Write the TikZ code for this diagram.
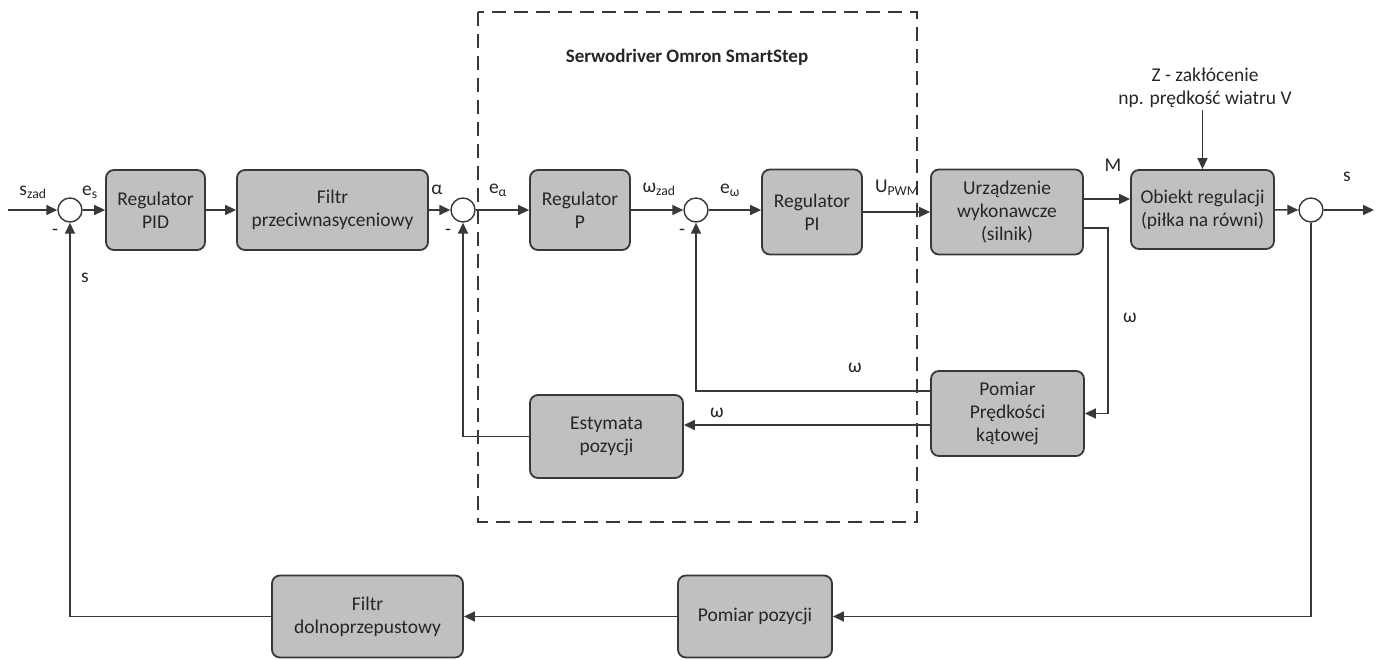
\documentclass[tikz,border=0pt]{standalone}
\usepackage{fontspec}
\setmainfont{Carlito}
\usetikzlibrary{arrows.meta}

\definecolor{ciemny}{HTML}{262626}
\definecolor{linia}{HTML}{383838}
\definecolor{szary}{HTML}{C0C0C0}

\tikzset{
  blok/.style = {draw=linia, fill=szary, line width=1.8pt, rounded corners=8pt,
                 align=center, text=ciemny, inner sep=2pt},
  suma/.style = {draw=linia, fill=white, circle, line width=1.4pt, minimum size=24pt, inner sep=0pt},
  sygnal/.style = {draw=linia, line width=1.5pt, -{Triangle[length=11pt,width=10pt]}},
  etykieta/.style = {text=ciemny, inner sep=0pt}
}

\begin{document}
\begin{tikzpicture}[x=1pt, y=-1pt, font=\fontsize{19.5}{23}\selectfont]
\useasboundingbox (0,0) rectangle (1378,660);

% ramka serwodrivera
\draw[linia, line width=1.5pt, dash pattern=on 14pt off 8pt] (478,12) rectangle (917,522);
\path (687,57) node[etykieta, font=\fontsize{19}{23}\selectfont\bfseries] (tytul) {Serwodriver Omron SmartStep};

% bloki toru glownego
\path (155.5,210) node[blok, minimum width=99pt, minimum height=80pt] (pid) {Regulator\\PID};
\path (332.5,210) node[blok, minimum width=191pt, minimum height=80pt] (filtr) {Filtr\\przeciwnasyceniowy};
\path (580,210) node[blok, minimum width=100pt, minimum height=80pt] (regp) {Regulator\\P};
\path (812,212) node[blok, minimum width=100pt, minimum height=85pt] (regpi) {Regulator\\PI};
\path (1007,212) node[blok, minimum width=152pt, minimum height=85pt] (urz) {Urządzenie\\wykonawcze\\(silnik)};
\path (1202.5,209.5) node[blok, minimum width=143pt, minimum height=79pt] (obiekt) {Obiekt regulacji\\(piłka na równi)};

% bloki sprzezen
\path (1007.5,413.5) node[blok, minimum width=153pt, minimum height=85pt] (pomw) {Pomiar\\Prędkości\\kątowej};
\path (606.5,436.5) node[blok, minimum width=153pt, minimum height=83pt] (est) {Estymata\\pozycji};
\path (755,616.5) node[blok, minimum width=154pt, minimum height=82pt] (pompoz) {Pomiar pozycji};
\path (367.5,616.5) node[blok, minimum width=191pt, minimum height=82pt] (filtrd) {Filtr\\dolnoprzepustowy};

% wezly sumacyjne
\path (70,210) node[suma] (s1) {};
\path (463,210) node[suma] (s2) {};
\path (696,210) node[suma] (s3) {};
\path (1311,210) node[suma] (s4) {};

\coordinate (wej) at (8,210);
\coordinate (wyj) at (1374,210);
\coordinate (zakl) at (1202.5,110);

% tor glowny
\draw[sygnal] (wej) -- (s1);
\draw[sygnal] (s1) -- (pid);
\draw[sygnal] (pid) -- (filtr);
\draw[sygnal] (filtr) -- (s2);
\draw[sygnal] (s2) -- (regp);
\draw[sygnal] (regp) -- (s3);
\draw[sygnal] (s3.east) -- (s3.east -| regpi.west);
\draw[sygnal] (regpi.east |- urz.west) -- (urz.west);
\draw[sygnal] ([yshift=13pt]urz.east) -- ([yshift=13pt]urz.east -| obiekt.west);
\draw[sygnal] (obiekt) -- (s4);
\draw[sygnal] (s4) -- (wyj);
\draw[sygnal] (zakl) -- (obiekt.north);

% sprzezenia
\draw[sygnal] ([yshift=-16pt]urz.east) -- ++(24,0) |- (pomw.east);
\draw[sygnal] ([yshift=22.5pt]pomw.west) -| (s3.south);
\draw[sygnal] ([yshift=-11.5pt]pomw.west) -- ([yshift=-11.5pt]pomw.west -| est.east);
\draw[sygnal] (est.west) -| (s2.south);
\draw[sygnal] (s4.south) |- (pompoz.east);
\draw[sygnal] (pompoz.west) -- (filtrd.east);
\draw[sygnal] (filtrd.west) -| (s1.south);

% etykiety sygnalow
\path (33,192) node[etykieta] (lszad) {s\textsubscript{zad}};
\path (90,192) node[etykieta] (les) {e\textsubscript{s}};
\path (55,232) node[etykieta] (lm1) {-};
\path (85,278) node[etykieta] (ls1) {s};
\path (437,190) node[etykieta] (lalfa) {α};
\path (448,232) node[etykieta] (lm2) {-};
\path (498,190) node[etykieta] (lealfa) {e\textsubscript{α}};
\path (659,189) node[etykieta] (lwzad) {ω\textsubscript{zad}};
\path (730,190) node[etykieta] (lew) {e\textsubscript{ω}};
\path (682,232) node[etykieta] (lm3) {-};
\path (897,188) node[etykieta] (lupwm) {U\textsubscript{PWM}};
\path (1113,165) node[etykieta] (lm) {M};
\path (1347,177) node[etykieta] (ls2) {s};
\path (1205,88) node[etykieta, align=center] (lz) {Z - zakłócenie\\np. prędkość wiatru V};
\path (1130,318) node[etykieta] (lw1) {ω};
\path (855,368) node[etykieta] (lw2) {ω};
\path (717,413) node[etykieta] (lw3) {ω};
\end{tikzpicture}
\end{document}
